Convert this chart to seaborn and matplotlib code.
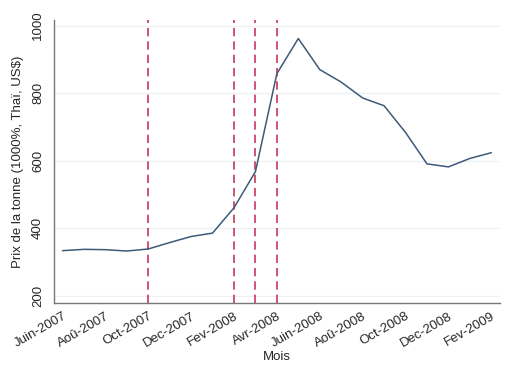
import numpy as np
import pandas as pd
import seaborn as sns
import matplotlib.pyplot as plt

# monthly prices, Jun-2007 .. Feb-2009
months = ["Juin-2007", "Jui-2007", "Aoû-2007", "Sep-2007", "Oct-2007", "Nov-2007",
          "Dec-2007", "Jan-2008", "Fev-2008", "Mar-2008", "Avr-2008", "Mai-2008",
          "Juin-2008", "Jui-2008", "Aoû-2008", "Sep-2008", "Oct-2008", "Nov-2008",
          "Dec-2008", "Jan-2009", "Fev-2009"]
prices = [334, 338, 337, 333, 339, 358, 376, 386, 461, 568, 858, 962,
          870, 833, 786, 763, 684, 591, 582, 607, 624]
event_months = ["Oct-2007", "Fev-2008", "Mar-2008", "Avr-2008"]
y_ticks = [200, 400, 600, 800, 1000]

df = pd.DataFrame({"idx": np.arange(len(months)), "prix": prices})

sns.set_style("white")
plt.rcParams["font.family"] = ["Liberation Sans", "DejaVu Sans"]

fig = plt.figure(figsize=(5.18, 3.76), dpi=100)
ax = fig.add_axes([0.104, 0.194, 0.861, 0.753])

ax.set_xlim(-0.4, 20.4)
ax.set_ylim(179, 1017)
for v in y_ticks:
    ax.axhline(v, color="#eef2f4", lw=1, zorder=0)

for m in event_months:
    ax.axvline(months.index(m), color="#c8365e", lw=1.2, ls=(0, (5, 3)), zorder=1)

sns.lineplot(data=df, x="idx", y="prix", color="#3d5a78", lw=1.1, ax=ax, zorder=2)

ax.set_xticks(df["idx"][::2])
ax.set_xticklabels(months[::2], rotation=30, ha="right", fontsize=9.5,
                   rotation_mode="anchor")
ax.set_yticks(y_ticks)
ax.set_yticklabels([str(v) for v in y_ticks], rotation=90, va="center", fontsize=9.5)
ax.tick_params(axis="both", direction="out", length=4, width=0.8, color="#555555",
               pad=3)
ax.tick_params(axis="x", pad=1)

for s in ["top", "right"]:
    ax.spines[s].set_visible(False)
for s in ["left", "bottom"]:
    ax.spines[s].set_color("#777777")
    ax.spines[s].set_linewidth(1.0)

ax.set_xlabel("Mois", fontsize=9.5, labelpad=1)
ax.set_ylabel("Prix de la tonne (1000%, Thaï, US$)", fontsize=9.5, labelpad=6)

fig.savefig("out.png", dpi=100)
